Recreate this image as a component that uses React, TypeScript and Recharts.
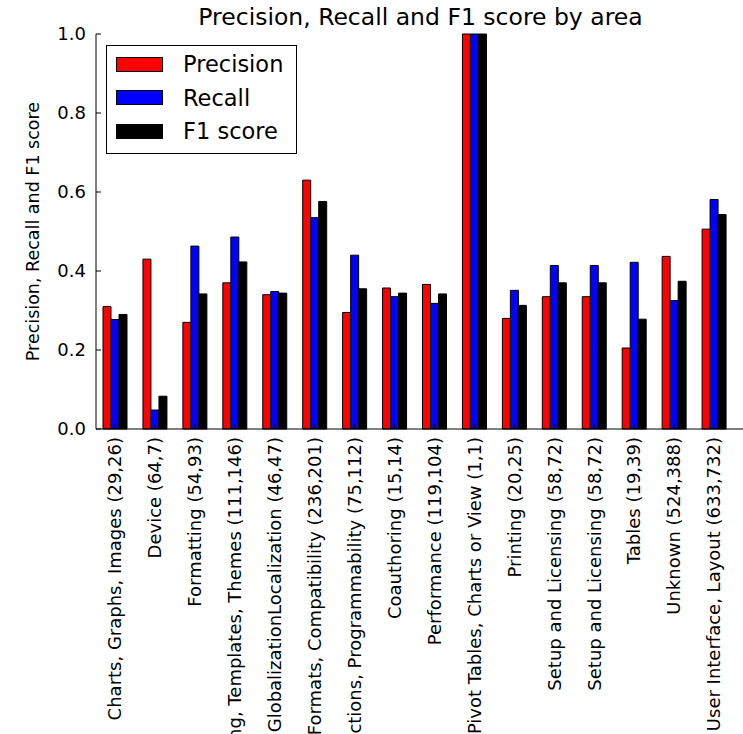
import React from 'react';
import { BarChart, Bar, XAxis, YAxis, Legend } from 'recharts';

const categories = [
  'Charts, Graphs, Images (29,26)',
  'Device (64,7)',
  'Formatting (54,93)',
  'Styling, Templates, Themes (111,146)',
  'GlobalizationLocalization (46,47)',
  'File Formats, Compatibility (236,201)',
  'Functions, Programmability (75,112)',
  'Coauthoring (15,14)',
  'Performance (119,104)',
  'Pivot Tables, Charts or View (1,1)',
  'Printing (20,25)',
  'Setup and Licensing (58,72)',
  'Setup and Licensing (58,72)',
  'Tables (19,39)',
  'Unknown (524,388)',
  'User Interface, Layout (633,732)',
];
const precision = [0.31, 0.43, 0.27, 0.37, 0.34, 0.63, 0.295, 0.357, 0.366, 1.0, 0.28, 0.335, 0.335, 0.205, 0.437, 0.506];
const recall = [0.277, 0.048, 0.463, 0.486, 0.348, 0.535, 0.44, 0.335, 0.318, 1.0, 0.351, 0.414, 0.414, 0.422, 0.325, 0.581];
const f1 = [0.29, 0.083, 0.342, 0.423, 0.344, 0.576, 0.355, 0.344, 0.342, 1.0, 0.313, 0.37, 0.37, 0.278, 0.374, 0.543];
const yTicks = [0, 0.2, 0.4, 0.6, 0.8, 1.0];
const seriesOrder = ['Precision', 'Recall', 'F1 score'];

const data = categories.map((name, i) => ({
  name,
  precision: precision[i],
  recall: recall[i],
  f1: f1[i],
}));

const FONT = '"DejaVu Sans", sans-serif';

function RotatedTick({ x, y, payload }: any) {
  return (
    <text
      x={x}
      y={y}
      dy="0.35em"
      transform={`rotate(-90, ${x}, ${y})`}
      textAnchor="end"
      fontSize={18}
      fontFamily={FONT}
      fill="#000"
    >
      {payload.value}
    </text>
  );
}

function LegendBox({ payload }: any) {
  const items = [...(payload || [])].sort(
    (a: any, b: any) => seriesOrder.indexOf(a.value) - seriesOrder.indexOf(b.value)
  );
  return (
    <div
      style={{
        width: 189,
        height: 105,
        border: '1px solid #000',
        background: '#fff',
        paddingTop: 2,
        boxSizing: 'content-box',
        fontFamily: FONT,
      }}
    >
      {items.map((p: any) => (
        <div key={p.value} style={{ height: 33.3, display: 'flex', alignItems: 'center' }}>
          <div
            style={{
              marginLeft: 9,
              width: 45,
              height: 13,
              background: p.color,
              border: '1px solid #000',
            }}
          />
          <span style={{ marginLeft: 20, fontSize: 22.5, color: '#000', lineHeight: 1 }}>{p.value}</span>
        </div>
      ))}
    </div>
  );
}

export default function App() {
  return (
    <div style={{ position: 'absolute', left: 0, top: 0, width: 743, height: 734, overflow: 'hidden', background: '#fff' }}>
      <BarChart
        width={760}
        height={734}
        data={data}
        margin={{ top: 34, right: 15, bottom: 0, left: 0 }}
        barGap={0}
        barSize={8}
      >
        <text x={420.5} y={25} textAnchor="middle" fontSize={23.5} fontFamily={FONT} fill="#000">
          Precision, Recall and F1 score by area
        </text>
        <text
          x={33}
          y={231.5}
          transform="rotate(-90, 33, 231.5)"
          dy="0.35em"
          textAnchor="middle"
          fontSize={17.5}
          fontFamily={FONT}
          fill="#000"
        >
          Precision, Recall and F1 score
        </text>
        <XAxis
          dataKey="name"
          height={305}
          interval={0}
          padding={{ left: -1, right: 11 }}
          tickSize={-5}
          tickMargin={13}
          tick={<RotatedTick />}
          axisLine={{ stroke: '#000' }}
          tickLine={{ stroke: '#000' }}
        />
        <XAxis
          xAxisId="top"
          dataKey="name"
          orientation="top"
          height={0}
          interval={0}
          padding={{ left: -1, right: 11 }}
          tickSize={-5}
          tick={false}
          axisLine={{ stroke: '#000' }}
          tickLine={{ stroke: '#000' }}
        />
        <YAxis
          width={96}
          domain={[0, 1]}
          ticks={yTicks}
          tickFormatter={(v: number) => v.toFixed(1)}
          tickSize={-5}
          tickMargin={15}
          tick={{ fontSize: 18, fontFamily: FONT, fill: '#000' }}
          axisLine={{ stroke: '#000' }}
          tickLine={{ stroke: '#000' }}
        />
        <YAxis
          yAxisId="right"
          orientation="right"
          width={0}
          domain={[0, 1]}
          ticks={yTicks}
          tickSize={-5}
          tick={false}
          axisLine={{ stroke: '#000' }}
          tickLine={{ stroke: '#000' }}
        />
        <Legend
          layout="horizontal"
          verticalAlign="middle"
          align="center"
          content={<LegendBox />}
          wrapperStyle={{ left: 106, top: 45, width: 191, height: 107 }}
        />
        <Bar dataKey="precision" name="Precision" fill="#ff0000" stroke="#000" strokeWidth={1} isAnimationActive={false} />
        <Bar dataKey="recall" name="Recall" fill="#0000ff" stroke="#000" strokeWidth={1} isAnimationActive={false} />
        <Bar dataKey="f1" name="F1 score" fill="#000000" stroke="#000" strokeWidth={1} isAnimationActive={false} />
      </BarChart>
    </div>
  );
}
